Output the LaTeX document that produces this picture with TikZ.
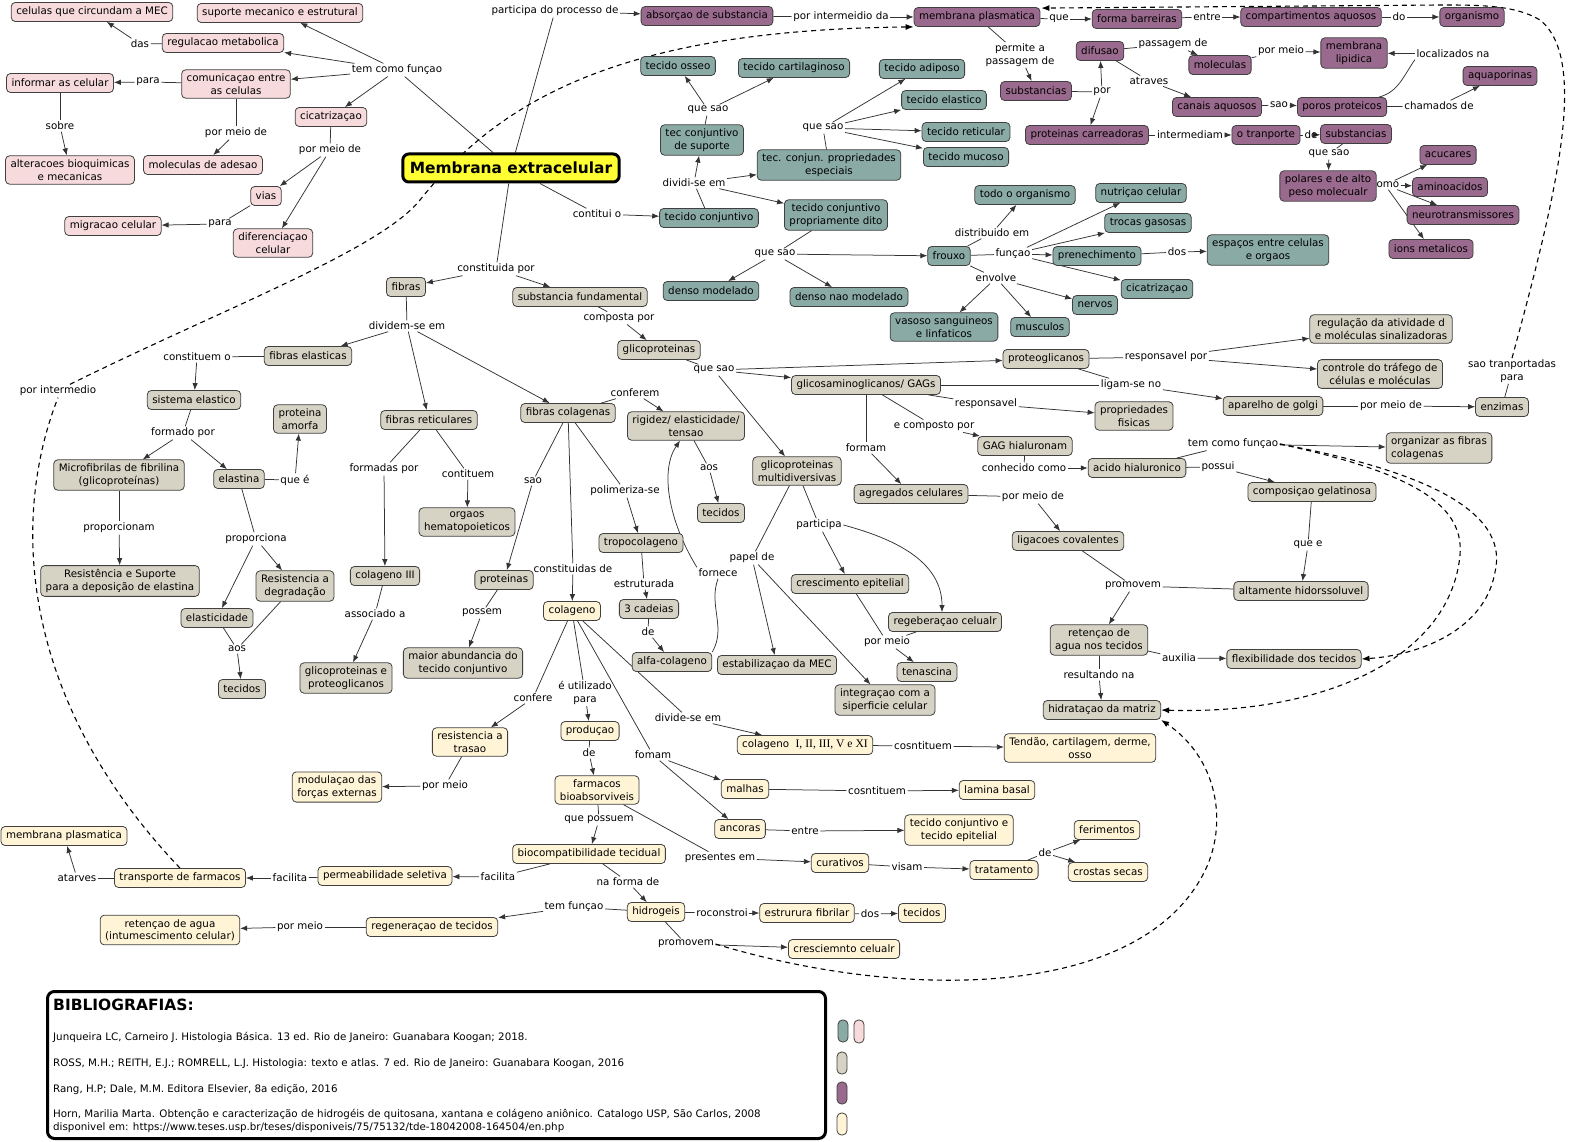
\documentclass[tikz,border=0pt]{standalone}
\usepackage{fontspec}
\setmainfont{DejaVu Sans}
\newfontfamily\serifn{Liberation Serif}
\usetikzlibrary{arrows.meta}
\pgfdeclarelayer{bglayer}
\pgfsetlayers{bglayer,main}
\definecolor{cpink}{RGB}{246,218,220}
\definecolor{cteal}{RGB}{138,170,166}
\definecolor{cbeige}{RGB}{214,211,196}
\definecolor{cpurple}{RGB}{153,106,141}
\definecolor{ccream}{RGB}{255,244,214}
\definecolor{cyel}{RGB}{255,255,51}
\newcommand{\nf}{\fontsize{10.3}{12.4}\selectfont}
\newcommand{\lnk}[2]{\draw[ln] (#1) -- (#2);}
\newcommand{\arw}[2]{\draw[ar] (#1) -- (#2);}
\tikzset{
  box/.style={draw=black!75, line width=0.8pt, rounded corners=4pt, font=\nf, inner xsep=5pt, inner ysep=4pt, minimum height=19pt, align=center},
  pk/.style={box, fill=cpink},
  tl/.style={box, fill=cteal},
  be/.style={box, fill=cbeige},
  pu/.style={box, fill=cpurple},
  cr/.style={box, fill=ccream},
  lb/.style={font=\nf, inner sep=1.5pt, align=center},
  ln/.style={draw=black!80, line width=0.75pt},
  ar/.style={ln, -{Latex[length=7pt,width=5.5pt]}},
  da/.style={draw=black, line width=1.1pt, dash pattern=on 5pt off 4pt},
  dar/.style={da, -{Latex[length=8pt,width=6pt]}},
}
\begin{document}
\begin{tikzpicture}[x=1pt,y=-1pt]
\useasboundingbox (0,0) rectangle (1582,1142);
% ---------- pink
\node[pk] (celMEC) at (92,12) {celulas que circundam a MEC};
\node[pk] (suporte) at (280,13) {suporte mecanico e estrutural};
\node[pk] (regMet) at (223,43) {regulacao metabolica};
\node[pk] (comun) at (236,84) {comunicaçao entre\\as celulas};
\node[pk] (informar) at (60,83) {informar as celular};
\node[pk] (cicat) at (331,117) {cicatrizaçao};
\node[pk] (alter) at (70,170) {alteracoes bioquimicas\\e mecanicas};
\node[pk] (molAd) at (203,165) {moleculas de adesao};
\node[pk] (vias) at (266,196) {vias};
\node[pk] (migr) at (113,226) {migracao celular};
\node[pk] (difer) at (273,243) {diferenciaçao\\celular};
\node[lb] (lTF) at (397,70) {tem como funçao};
\node[lb] (lDas) at (140,44) {das};
\node[lb] (lPara1) at (148,82) {para};
\node[lb] (lSobre) at (60,126) {sobre};
\node[lb] (lPM1) at (236,133) {por meio de};
\node[lb] (lPM2) at (330,150) {por meio de};
\node[lb] (lPara2) at (220,224) {para};
% ---------- central
\node[draw=black, line width=3pt, fill=cyel, rounded corners=6pt, font=\fontsize{15.4}{18}\selectfont\bfseries, inner xsep=7pt, minimum height=28pt] (M) at (511,168) {Membrana extracelular};
% ---------- purple
\node[lb] (lComo) at (1385,185) {como};
\node[pu] (absor) at (707,16) {absorçao de substancia};
\node[pu] (mPlas) at (977,17) {membrana plasmatica};
\node[pu] (forma) at (1137,19) {forma barreiras};
\node[pu] (compart) at (1311,17) {compartimentos aquosos};
\node[pu] (organ) at (1472,17) {organismo};
\node[pu] (subs1) at (1036,91) {substancias};
\node[pu] (difusao) at (1100,51) {difusao};
\node[pu] (protCarr) at (1087,135) {proteinas carreadoras};
\node[pu] (molec) at (1220,65) {moleculas};
\node[pu] (mLip) at (1354,53) {membrana\\lipidica};
\node[pu] (canais) at (1217,107) {canais aquosos};
\node[pu] (poros) at (1342,107) {poros proteicos};
\node[pu] (aquap) at (1500,76) {aquaporinas};
\node[pu] (transp) at (1266,135) {o tranporte};
\node[pu] (subs2) at (1356,134) {substancias};
\node[pu] (polares) at (1328,186) {polares e de alto\\peso molecualr};
\node[pu] (acuc) at (1448,155) {acucares};
\node[pu] (amino) at (1450,187) {aminoacidos};
\node[pu] (neuro) at (1463,215) {neurotransmissores};
\node[pu] (ions) at (1431,249) {ions metalicos};
\node[lb] (lPart) at (555,11) {participa do processo de};
\node[lb] (lPorInt) at (841,17) {por intermeidio da};
\node[lb] (lQue) at (1059,19) {que};
\node[lb] (lEntre) at (1207,17) {entre};
\node[lb] (lDo) at (1399,17) {do};
\node[lb] (lPerm) at (1020,55) {permite a\\passagem de};
\node[lb] (lPor) at (1102,92) {por};
\node[lb] (lPass) at (1173,44) {passagem de};
\node[lb] (lPorMeio3) at (1281,51) {por meio};
\node[lb] (lLoc) at (1453,54) {localizados na};
\node[lb] (lAtr) at (1149,81) {atraves};
\node[lb] (lSao) at (1279,105) {sao};
\node[lb] (lCham) at (1439,106) {chamados de};
\node[lb] (lInterm) at (1190,135) {intermediam};
\node[lb] (lDe1) at (1311,135) {de};
\node[lb] (lQueSao5) at (1329,154) {que sao};
% ---------- teal
\node[tl] (osseo) at (678,66) {tecido osseo};
\node[tl] (cartil) at (794,68) {tecido cartilaginoso};
\node[tl] (tecSup) at (702,140) {tec conjuntivo\\de suporte};
\node[tl] (tecEsp) at (829,165) {tec. conjun. propriedades\\especiais};
\node[tl] (adip) at (922,69) {tecido adiposo};
\node[tl] (elast) at (944,100) {tecido elastico};
\node[tl] (retic) at (966,132) {tecido reticular};
\node[tl] (mucoso) at (966,157) {tecido mucoso};
\node[tl] (tecConj) at (709,218) {tecido conjuntivo};
\node[tl] (tecPD) at (836,215) {tecido conjuntivo\\propriamente dito};
\node[tl] (densoM) at (711,291) {denso modelado};
\node[tl] (densoN) at (849,297) {denso nao modelado};
\node[tl] (frouxo) at (949,256) {frouxo};
\node[tl] (todoOrg) at (1025,195) {todo o organismo};
\node[tl] (nutr) at (1141,193) {nutriçao celular};
\node[tl] (trocas) at (1148,223) {trocas gasosas};
\node[tl] (prenech) at (1097,256) {prenechimento};
\node[tl] (espacos) at (1268,250) {espaços entre celulas\\e orgaos};
\node[tl] (cicat2) at (1157,289) {cicatrizaçao};
\node[tl] (nervos) at (1095,305) {nervos};
\node[tl] (vasos) at (944,327) {vasoso sanguineos\\e linfaticos};
\node[tl] (musc) at (1040,327) {musculos};
\node[lb] (lContit) at (597,214) {contitui o};
\node[lb] (lDiv) at (694,183) {dividi-se em};
\node[lb] (lQS1) at (708,110) {que sao};
\node[lb] (lQS2) at (823,128) {que sao};
\node[lb] (lQS3) at (775,254) {que sao};
\node[lb] (lDistr) at (992,233) {distribuido em};
\node[lb] (lFunc) at (1013,254) {funçao};
\node[lb] (lDos1) at (1177,252) {dos};
\node[lb] (lEnv) at (996,278) {envolve};
% ---------- beige
\node[be] (fibras) at (406,287) {fibras};
\node[be] (substF) at (580,297) {substancia fundamental};
\node[be] (glicop) at (659,350) {glicoproteinas};
\node[be] (proteog) at (1046,359) {proteoglicanos};
\node[be] (gags) at (866,385) {glicosaminoglicanos/ GAGs};
\node[be] (regAt) at (1381,329) {regulação da atividade d\\e moléculas sinalizadoras};
\node[be] (contr) at (1380,374) {controle do tráfego de\\células e moléculas};
\node[be] (golgi) at (1273,406) {aparelho de golgi};
\node[be] (enzimas) at (1502,407) {enzimas};
\node[be] (propF) at (1134,416) {propriedades\\fisicas};
\node[be] (gagH) at (1025,446) {GAG hialuronam};
\node[be] (acidoH) at (1137,468) {acido hialuronico};
\node[be, align=left] (organiz) at (1439,448) {organizar as fibras\\colagenas};
\node[be] (compos) at (1312,492) {composiçao gelatinosa};
\node[be] (altam) at (1301,591) {altamente hidorssoluvel};
\node[be] (agreg) at (911,494) {agregados celulares};
\node[be] (ligac) at (1068,541) {ligacoes covalentes};
\node[be] (retenc) at (1099,640) {retençao de\\agua nos tecidos};
\node[be] (flex) at (1294,659) {flexibilidade dos tecidos};
\node[be] (hidrat) at (1102,710) {hidrataçao da matriz};
\node[be] (glicoM) at (797,471) {glicoproteinas\\multidiversivas};
\node[be] (crescE) at (850,584) {crescimento epitelial};
\node[be] (regeb) at (945,622) {regeberaçao celualr};
\node[be] (tenasc) at (927,672) {tenascina};
\node[be] (estab) at (777,665) {estabilizaçao da MEC};
\node[be] (integr) at (885,700) {integraçao com a\\siperficie celular};
\node[be] (rigidez) at (686,426) {rigidez/ elasticidade/\\tensao};
\node[be] (tecB1) at (721,513) {tecidos};
\node[be] (fibCol) at (568,413) {fibras colagenas};
\node[be] (fibEl) at (308,356) {fibras elasticas};
\node[be] (sistEl) at (194,400) {sistema elastico};
\node[be] (microf) at (119,475) {Microfibrilas de fibrilina\\(glicoproteínas)};
\node[be] (elastina) at (239,479) {elastina};
\node[be] (protAm) at (300,419) {proteina\\amorfa};
\node[be] (resSup) at (120,581) {Resistência e Suporte\\para a deposição de elastina};
\node[be] (resDeg) at (295,586) {Resistencia a\\degradação};
\node[be] (elastic) at (217,618) {elasticidade};
\node[be] (tecB2) at (242,689) {tecidos};
\node[be] (fibRet) at (429,420) {fibras reticulares};
\node[be] (colIII) at (385,576) {colageno III};
\node[be] (glicoPr) at (346,678) {glicoproteinas e\\proteoglicanos};
\node[be] (orgaos) at (467,522) {orgaos\\hematopoieticos};
\node[be] (proteinas) at (504,580) {proteinas};
\node[be] (maiorA) at (463,663) {maior abundancia do\\tecido conjuntivo};
\node[be] (tropo) at (641,543) {tropocolageno};
\node[be] (tres) at (649,609) {3 cadeias};
\node[be] (alfa) at (672,662) {alfa-colageno};
\node[lb] (lConst) at (496,269) {constituida por};
\node[lb] (lComp) at (619,318) {composta por};
\node[lb] (lQS4) at (714,370) {que sao};
\node[lb] (lResp1) at (1166,357) {responsavel por};
\node[lb] (lLigam) at (1131,385) {ligam-se no};
\node[lb] (lPM4) at (1391,406) {por meio de};
\node[lb] (lSaoT) at (1512,371) {sao tranportadas\\para};
\node[lb] (lResp2) at (986,404) {responsavel};
\node[lb] (lEComp) at (934,426) {e composto por};
\node[lb] (lConh) at (1024,468) {conhecido como};
\node[lb] (lTF2) at (1233,444) {tem como funçao};
\node[lb] (lPossui) at (1218,467) {possui};
\node[lb] (lQueE) at (1308,545) {que e};
\node[lb] (lFormam) at (866,448) {formam};
\node[lb] (lPM5) at (1033,497) {por meio de};
\node[lb] (lPromov) at (1133,586) {promovem};
\node[lb] (lAux) at (1179,658) {auxilia};
\node[lb] (lResult) at (1099,675) {resultando na};
\node[lb] (lPartic) at (819,525) {participa};
\node[lb] (lPM6) at (887,642) {por meio};
\node[lb] (lPapel) at (752,558) {papel de};
\node[lb] (lConfer) at (635,393) {conferem};
\node[lb] (lAos1) at (709,468) {aos};
\node[lb] (lForn) at (718,573) {fornece};
\node[lb] (lDivid) at (407,326) {dividem-se em};
\node[lb] (lConstO) at (197,357) {constituem o};
\node[lb] (lFormP) at (183,433) {formado por};
\node[lb] (lQueE2) at (295,480) {que é};
\node[lb] (lProporc) at (119,528) {proporcionam};
\node[lb] (lProp) at (256,539) {proporciona};
\node[lb] (lAos2) at (237,649) {aos};
\node[lb] (lFormadas) at (384,469) {formadas por};
\node[lb] (lAssoc) at (375,614) {associado a};
\node[lb] (lContituem) at (468,474) {contituem};
\node[lb] (lSao2) at (533,481) {sao};
\node[lb] (lPossem) at (482,613) {possem};
\node[lb] (lConstDe) at (573,569) {constituidas de};
\node[lb] (lPolim) at (625,491) {polimeriza-se};
\node[lb] (lEstr) at (644,584) {estruturada};
\node[lb] (lDe2) at (648,632) {de};
% ---------- cream
\node[cr] (colag) at (572,611) {colageno};
\node[cr] (resTr) at (470,742) {resistencia a\\trasao};
\node[cr] (modul) at (337,787) {modulaçao das\\forças externas};
\node[cr] (produc) at (590,731) {produçao};
\node[cr] (farm) at (597,790) {farmacos\\bioabsorviveis};
\node[cr] (biocomp) at (589,854) {biocompatibilidade tecidual};
\node[cr] (curat) at (840,863) {curativos};
\node[cr] (tratam) at (1004,870) {tratamento};
\node[cr] (ferim) at (1107,830) {ferimentos};
\node[cr] (crostas) at (1108,872) {crostas secas};
\node[cr] (permeab) at (385,876) {permeabilidade seletiva};
\node[cr] (transpF) at (180,878) {transporte de farmacos};
\node[cr] (mPlas2) at (64,836) {membrana plasmatica};
\node[cr] (hidrog) at (656,912) {hidrogeis};
\node[cr] (regen) at (432,927) {regeneraçao de tecidos};
\node[cr] (retAg) at (170,930) {retençao de agua\\(intumescimento celular)};
\node[cr] (estrur) at (807,913) {estrurura fibrilar};
\node[cr] (tecC) at (922,913) {tecidos};
\node[cr] (cresc) at (844,949) {cresciemnto celualr};
\node[cr] (colTy) at (805,745) {colageno\ \ {\serifn\fontsize{11.6}{12.4}\selectfont I, II, III, V e XI}};
\node[cr] (tendao) at (1080,748) {Tendão, cartilagem, derme,\\osso};
\node[cr] (malhas) at (745,789) {malhas};
\node[cr] (lamina) at (997,790) {lamina basal};
\node[cr] (ancoras) at (740,829) {ancoras};
\node[cr] (tecCE) at (959,830) {tecido conjuntivo e\\tecido epitelial};
\node[lb] (lConfere) at (533,698) {confere};
\node[lb] (lPM7) at (445,786) {por meio};
\node[lb] (lUtil) at (585,693) {é utilizado\\para};
\node[lb] (lDe3) at (589,753) {de};
\node[lb] (lQPoss) at (599,820) {que possuem};
\node[lb] (lPresent) at (720,858) {presentes em};
\node[lb] (lVisam) at (907,867) {visam};
\node[lb] (lDe4) at (1045,853) {de};
\node[lb] (lFac1) at (498,877) {facilita};
\node[lb] (lFac2) at (290,878) {facilita};
\node[lb] (lAtarv) at (77,878) {atarves};
\node[lb] (lNaForma) at (628,882) {na forma de};
\node[lb] (lTemF) at (574,907) {tem funçao};
\node[lb] (lPM8) at (300,927) {por meio};
\node[lb] (lRocon) at (722,913) {roconstroi};
\node[lb] (lDos2) at (870,914) {dos};
\node[lb] (lProm2) at (686,944) {promovem};
\node[lb] (lDivSe) at (688,718) {divide-se em};
\node[lb] (lCosn1) at (923,746) {cosntituem};
\node[lb] (lFomam) at (653,755) {fomam};
\node[lb] (lCosn2) at (877,791) {cosntituem};
\node[lb] (lEntre2) at (805,831) {entre};
\node[lb] (lPorInterm) at (58,391) {por intermedio};
% ---------- bibliography
\node[draw=black, line width=3pt, rounded corners=7pt, minimum width=778pt, minimum height=147pt, inner sep=0pt] (bib) at (436.5,1065) {};
\node[anchor=west, inner sep=0pt, font=\fontsize{15.5}{18}\selectfont\bfseries] (bibT) at (53,1005) {BIBLIOGRAFIAS:};
\begin{scope}[every node/.style={anchor=west, inner sep=0pt, font=\fontsize{10.3}{12.4}\selectfont}]
\node (b1) at (53,1037) {Junqueira LC, Carneiro J. Histologia Básica. 13 ed. Rio de Janeiro: Guanabara Koogan; 2018.};
\node (b2) at (53,1064) {ROSS, M.H.; REITH, E.J.; ROMRELL, L.J. Histologia: texto e atlas. 7 ed. Rio de Janeiro: Guanabara Koogan, 2016};
\node (b3) at (53,1090) {Rang, H.P; Dale, M.M. Editora Elsevier, 8a edição, 2016};
\node (b4) at (53,1114) {Horn, Marilia Marta. Obtenção e caracterização de hidrogéis de quitosana, xantana e colágeno aniônico. Catalogo USP, São Carlos, 2008};
\node (b5) at (53,1128) {disponivel em: https://www.teses.usp.br/teses/disponiveis/75/75132/tde-18042008-164504/en.php};
\end{scope}
% legend
\draw[draw=black!75, line width=0.8pt, fill=cteal, rounded corners=4.5pt] (838,1020) rectangle (848,1042);
\draw[draw=black!75, line width=0.8pt, fill=cpink, rounded corners=4.5pt] (854,1020) rectangle (864,1043);
\draw[draw=black!75, line width=0.8pt, fill=cbeige, rounded corners=4.5pt] (837,1052) rectangle (847,1074);
\draw[draw=black!75, line width=0.8pt, fill=cpurple, rounded corners=4.5pt] (837,1082) rectangle (847,1104);
\draw[draw=black!75, line width=0.8pt, fill=ccream, rounded corners=4.5pt] (837,1113) rectangle (847,1135);
% ---------- connectors
\begin{pgfonlayer}{bglayer}
\fill[white] (0,0) rectangle (1582,1142);
% pink
\lnk{lTF}{M} \arw{lTF}{suporte} \arw{lTF}{regMet} \arw{lTF}{comun} \arw{lTF}{cicat}
\lnk{regMet}{lDas} \arw{lDas}{celMEC}
\lnk{comun}{lPara1} \arw{lPara1}{informar}
\lnk{informar}{lSobre} \arw{lSobre}{alter}
\lnk{comun}{lPM1} \arw{lPM1}{molAd}
\lnk{cicat}{lPM2} \arw{lPM2}{vias} \arw{lPM2}{difer}
\lnk{vias}{lPara2} \arw{lPara2}{migr}
% purple
\lnk{M}{lPart} \arw{lPart}{absor}
\lnk{absor}{lPorInt} \arw{lPorInt}{mPlas}
\lnk{mPlas}{lQue} \arw{lQue}{forma}
\lnk{forma}{lEntre} \arw{lEntre}{compart}
\lnk{compart}{lDo} \arw{lDo}{organ}
\lnk{mPlas}{lPerm} \arw{lPerm}{subs1}
\lnk{subs1}{lPor} \arw{lPor}{difusao} \arw{lPor}{protCarr}
\lnk{difusao}{lPass} \arw{lPass}{molec}
\lnk{molec}{lPorMeio3} \arw{lPorMeio3}{mLip}
\lnk{difusao}{lAtr} \arw{lAtr}{canais}
\lnk{canais}{lSao} \arw{lSao}{poros}
\lnk{poros}{lCham} \arw{lCham}{aquap}
\draw[ln] (poros.15) to[out=15,in=-125] (lLoc.south west);
\arw{lLoc}{mLip}
\lnk{protCarr}{lInterm} \arw{lInterm}{transp}
\lnk{transp}{lDe1} \arw{lDe1}{subs2}
\lnk{subs2}{lQueSao5} \arw{lQueSao5}{polares}
\arw{lComo}{acuc} \arw{lComo}{amino} \arw{lComo}{neuro} \arw{lComo}{ions}
% teal
\lnk{M}{lContit} \arw{lContit}{tecConj}
\lnk{tecConj}{lDiv} \arw{lDiv}{tecSup} \arw{lDiv}{tecEsp} \arw{lDiv}{tecPD}
\lnk{tecSup}{lQS1} \arw{lQS1}{osseo} \arw{lQS1}{cartil}
\lnk{tecEsp}{lQS2} \arw{lQS2}{adip} \arw{lQS2}{elast} \arw{lQS2}{retic} \arw{lQS2}{mucoso}
\lnk{tecPD}{lQS3} \arw{lQS3}{densoM} \arw{lQS3}{densoN} \arw{lQS3}{frouxo}
\lnk{frouxo}{lDistr} \arw{lDistr}{todoOrg}
\lnk{frouxo}{lFunc} \arw{lFunc}{nutr} \arw{lFunc}{trocas} \arw{lFunc}{prenech} \arw{lFunc}{cicat2}
\lnk{prenech}{lDos1} \arw{lDos1}{espacos}
\lnk{frouxo}{lEnv} \arw{lEnv}{vasos} \arw{lEnv}{musc} \arw{lEnv}{nervos}
% beige
\lnk{M}{lConst} \arw{lConst}{fibras} \arw{lConst}{substF}
\lnk{substF}{lComp} \arw{lComp}{glicop}
\lnk{glicop}{lQS4} \arw{lQS4}{proteog} \arw{lQS4}{gags} \arw{lQS4}{glicoM}
\lnk{proteog}{lResp1} \arw{lResp1}{regAt} \arw{lResp1}{contr}
\lnk{proteog}{lLigam} \lnk{gags}{lLigam} \arw{lLigam}{golgi}
\lnk{golgi}{lPM4} \arw{lPM4}{enzimas}
\lnk{enzimas}{lSaoT}
\lnk{gags}{lResp2} \arw{lResp2}{propF}
\lnk{gags}{lEComp} \arw{lEComp}{gagH}
\lnk{gagH}{lConh} \arw{lConh}{acidoH}
\lnk{acidoH}{lTF2} \arw{lTF2}{organiz}
\lnk{acidoH}{lPossui} \arw{lPossui}{compos}
\lnk{compos}{lQueE} \arw{lQueE}{altam}
\lnk{gags}{lFormam} \arw{lFormam}{agreg}
\lnk{agreg}{lPM5} \arw{lPM5}{ligac}
\lnk{ligac}{lPromov} \lnk{altam}{lPromov} \arw{lPromov}{retenc}
\lnk{retenc}{lAux} \arw{lAux}{flex}
\lnk{retenc}{lResult} \arw{lResult}{hidrat}
\lnk{glicoM}{lPartic} \arw{lPartic}{crescE}
\draw[ar] (lPartic.east) to[out=-15,in=90] ([xshift=-3pt]regeb.north);
\lnk{crescE}{lPM6} \lnk{regeb}{lPM6} \arw{lPM6}{tenasc}
\lnk{glicoM}{lPapel} \arw{lPapel}{estab} \arw{lPapel}{integr}
\lnk{fibras}{lDivid} \arw{lDivid}{fibEl} \arw{lDivid}{fibRet} \arw{lDivid}{fibCol}
\lnk{fibEl}{lConstO} \arw{lConstO}{sistEl}
\lnk{sistEl}{lFormP} \arw{lFormP}{microf} \arw{lFormP}{elastina}
\lnk{elastina}{lQueE2} \arw{lQueE2}{protAm}
\lnk{microf}{lProporc} \arw{lProporc}{resSup}
\lnk{elastina}{lProp} \arw{lProp}{elastic} \arw{lProp}{resDeg}
\lnk{elastic}{lAos2} \lnk{resDeg}{lAos2} \arw{lAos2}{tecB2}
\lnk{fibRet}{lFormadas} \arw{lFormadas}{colIII}
\lnk{colIII}{lAssoc} \arw{lAssoc}{glicoPr}
\lnk{fibRet}{lContituem} \arw{lContituem}{orgaos}
\lnk{fibCol}{lConfer} \arw{lConfer}{rigidez}
\lnk{rigidez}{lAos1} \arw{lAos1}{tecB1}
\lnk{fibCol}{lSao2} \arw{lSao2}{proteinas}
\lnk{proteinas}{lPossem} \arw{lPossem}{maiorA}
\lnk{fibCol}{lConstDe} \arw{lConstDe}{colag}
\lnk{fibCol}{lPolim} \arw{lPolim}{tropo}
\lnk{tropo}{lEstr} \arw{lEstr}{tres}
\lnk{tres}{lDe2} \arw{lDe2}{alfa}
\draw[ln] (alfa.north east) to[out=60,in=-110] (lForn.south);
\draw[ar] (lForn.north west) .. controls (668,520) and (660,470) .. ([xshift=-6pt]rigidez.south);
% cream
\lnk{colag}{lConfere} \arw{lConfere}{resTr}
\lnk{resTr}{lPM7} \arw{lPM7}{modul}
\lnk{colag}{lUtil} \arw{lUtil}{produc}
\lnk{produc}{lDe3} \arw{lDe3}{farm}
\lnk{farm}{lQPoss} \arw{lQPoss}{biocomp}
\lnk{farm}{lPresent} \arw{lPresent}{curat}
\lnk{curat}{lVisam} \arw{lVisam}{tratam}
\lnk{tratam}{lDe4} \arw{lDe4}{ferim} \arw{lDe4}{crostas}
\lnk{biocomp}{lFac1} \arw{lFac1}{permeab}
\lnk{permeab}{lFac2} \arw{lFac2}{transpF}
\lnk{transpF}{lAtarv} \arw{lAtarv}{mPlas2}
\lnk{biocomp}{lNaForma} \arw{lNaForma}{hidrog}
\lnk{hidrog}{lTemF} \arw{lTemF}{regen}
\lnk{regen}{lPM8} \arw{lPM8}{retAg}
\lnk{hidrog}{lRocon} \arw{lRocon}{estrur}
\lnk{estrur}{lDos2} \arw{lDos2}{tecC}
\lnk{hidrog}{lProm2} \arw{lProm2}{cresc}
\lnk{colag}{lDivSe} \arw{lDivSe}{colTy}
\lnk{colTy}{lCosn1} \arw{lCosn1}{tendao}
\lnk{colag}{lFomam} \arw{lFomam}{malhas} \arw{lFomam}{ancoras}
\lnk{malhas}{lCosn2} \arw{lCosn2}{lamina}
\lnk{ancoras}{lEntre2} \arw{lEntre2}{tecCE}
% dashed
\draw[da] (transpF.north) .. controls (20,700) and (10,520) .. (lPorInterm.south);
\draw[dar] ([xshift=12pt]lPorInterm.north) .. controls (220,310) and (380,250) .. (420,200) .. controls (500,100) and (620,30) .. (mPlas.south west);
\draw[dar] (lSaoT.north) .. controls (1555,200) and (1590,60) .. (1540,20) .. controls (1515,5) and (1480,5) .. (1440,5) -- ([xshift=1pt,yshift=-1pt]mPlas.north east);
\draw[dar] (lTF2.east) .. controls (1420,470) and (1510,510) .. (1495,572) .. controls (1485,630) and (1420,655) .. (flex.east);
\draw[dar] (lTF2.east) .. controls (1400,470) and (1465,500) .. (1460,555) .. controls (1450,660) and (1320,715) .. (hidrat.east);
\draw[dar] (lProm2.east) .. controls (900,1000) and (1130,1000) .. (1200,880) .. controls (1230,830) and (1220,760) .. (hidrat.south east);
\end{pgfonlayer}
\end{tikzpicture}
\end{document}
